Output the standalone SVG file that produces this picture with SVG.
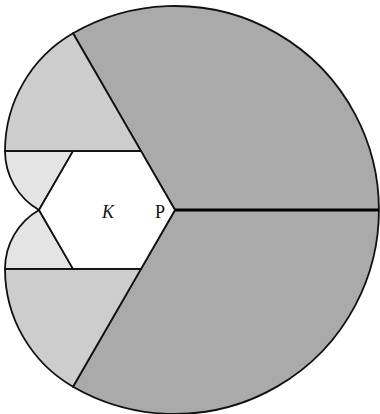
<svg xmlns="http://www.w3.org/2000/svg" width="380" height="414" viewBox="0 0 380 414">
<style>
.edge{stroke:#111;stroke-width:1.8;stroke-linejoin:round}
.dark{fill:#aaaaaa}
.mid{fill:#cdcdcd}
.light{fill:#e4e4e4}
.lbl{font-family:"Liberation Serif","DejaVu Serif",serif;font-size:18px;fill:#111}
</style>
<rect width="380" height="414" fill="#fff"/>
<g id="region-dark">
<path class="dark edge" d="M175 210 L73 33.3 A204 204 0 1 1 73 386.7 Z"/>
</g>
<g id="region-mid-upper">
<path class="mid edge" d="M141 151.1 L73 33.3 A136 136 0 0 0 5 151.1 Z"/>
</g>
<g id="region-mid-lower">
<path class="mid edge" d="M141 268.9 L5 268.9 A136 136 0 0 0 73 386.7 Z"/>
</g>
<g id="region-light-upper">
<path class="light edge" d="M73 151.1 L5 151.1 A68 68 0 0 0 39 210 Z"/>
</g>
<g id="region-light-lower">
<path class="light edge" d="M73 268.9 L39 210 A68 68 0 0 0 5 268.9 Z"/>
</g>
<g id="hexagon-K">
<path class="edge" fill="#fff" d="M175 210 L141 151.1 L73 151.1 L39 210 L73 268.9 L141 268.9 Z"/>
<text class="lbl" x="108" y="218" text-anchor="middle" font-style="italic">K</text>
<text class="lbl" x="160" y="218" text-anchor="middle">P</text>
</g>
<g id="connectors">
<line x1="175" y1="210" x2="379" y2="210" stroke="#000" stroke-width="3"/>
</g>
</svg>
